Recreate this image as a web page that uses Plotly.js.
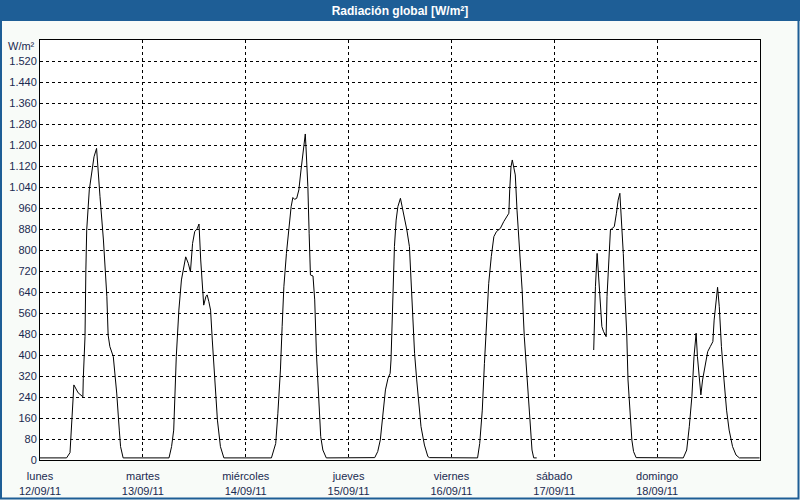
<!DOCTYPE html>
<html><head><meta charset="utf-8">
<script src="https://cdn.plot.ly/plotly-3.0.1.min.js"></script>
<style>html,body{margin:0;padding:0;background:#f8fbf8}#chart{width:800px;height:500px}</style>
</head><body><div id="chart"></div>
<script>
// Tick labels (one per day, at midnight)
const dayNames = ['lunes', 'martes', 'miércoles', 'jueves', 'viernes', 'sábado', 'domingo'];
const dayDates = ['12/09/11', '13/09/11', '14/09/11', '15/09/11', '16/09/11', '17/09/11', '18/09/11'];
const dayStartHours = [0, 24, 48, 72, 96, 120, 144];
const yTickValues = [0, 80, 160, 240, 320, 400, 480, 560, 640, 720, 800, 880, 960, 1040, 1120, 1200, 1280, 1360, 1440, 1520];

// Global radiation (W/m²); hours of the day and values, per day
const lunesHours = [0, 6.2, 7.0, 7.4, 7.9, 8.9, 10.0, 10.1, 10.5, 10.7, 10.9, 11.5, 12.1, 12.6, 13.2, 13.4, 14.0, 14.8, 15.6, 15.9, 16.3, 17.1, 17.9, 18.5, 18.8, 19.4];
const lunesValues = [8, 8, 28, 152, 286, 256, 241, 311, 470, 724, 876, 1029, 1105, 1155, 1187, 1136, 1003, 838, 622, 476, 432, 394, 255, 114, 51, 8];

const martesHours = [6.1, 6.7, 7.2, 7.8, 8.4, 9.0, 9.6, 10.0, 10.6, 11.1, 11.6, 12.1, 12.7, 13.1, 13.5, 13.9, 14.2, 14.7, 15.0, 15.4, 15.8, 16.2, 16.8, 17.4, 18.1, 18.9];
const martesValues = [8, 51, 114, 394, 571, 686, 743, 774, 749, 717, 825, 870, 882, 899, 762, 635, 590, 622, 629, 603, 571, 457, 279, 152, 51, 8];

const miercolesHours = [6.0, 7.0, 7.5, 8.1, 8.5, 8.9, 9.5, 10.1, 10.6, 11.0, 11.4, 11.9, 12.4, 12.9, 13.3, 13.7, 13.9, 14.1, 14.5, 14.8, 15.1, 15.7, 16.1, 16.5, 17.0, 17.5, 18.0, 18.8];
const miercolesValues = [8, 63, 178, 343, 508, 660, 787, 889, 965, 1000, 993, 997, 1029, 1105, 1168, 1219, 1242, 1181, 1041, 864, 705, 701, 610, 406, 229, 89, 38, 8];

const juevesHours = [6.1, 6.8, 7.4, 8.0, 8.6, 9.2, 9.7, 9.9, 10.2, 10.3, 10.7, 11.1, 11.5, 12.1, 12.5, 13.1, 13.6, 14.2, 14.6, 15.0, 15.4, 15.9, 16.4, 16.9, 17.7, 18.5, 18.9];
const juevesValues = [9, 32, 76, 178, 267, 311, 330, 381, 533, 660, 813, 914, 965, 997, 965, 927, 876, 813, 686, 533, 406, 305, 216, 127, 57, 13, 9];

const viernesHours = [6.1, 6.6, 7.2, 7.7, 8.2, 8.7, 9.3, 9.9, 10.5, 11.4, 12.2, 13.0, 13.4, 13.6, 13.9, 14.2, 14.5, 14.9, 15.3, 15.9, 16.5, 17.0, 17.7, 18.3, 18.8, 19.2, 19.9];
const viernesValues = [8, 63, 190, 368, 546, 673, 775, 851, 870, 882, 908, 933, 940, 1029, 1117, 1143, 1117, 1086, 952, 800, 648, 470, 292, 140, 38, 8, 8];

const sabadoHours = [9.2, 9.3, 9.6, 10.0, 10.4, 10.7, 11.1, 11.5, 12.1, 12.3, 12.7, 13.1, 13.5, 14.0, 14.5, 14.9, 15.3, 15.6, 16.1, 16.5, 16.9, 17.2, 17.7, 18.1, 18.5, 19.1];
const sabadoValues = [419, 483, 660, 787, 686, 584, 508, 489, 470, 622, 736, 876, 882, 889, 940, 990, 1016, 940, 787, 622, 483, 305, 152, 76, 32, 9];

const domingoHours = [6.1, 6.9, 7.5, 8.1, 8.6, 9.1, 9.4, 9.8, 10.2, 10.6, 11.2, 11.8, 12.4, 13.0, 13.3, 13.7, 14.1, 14.5, 15.0, 15.6, 16.2, 16.8, 17.6, 18.4, 19.2, 23.9];
const domingoValues = [8, 38, 127, 241, 394, 483, 394, 317, 248, 305, 368, 413, 432, 451, 533, 610, 658, 584, 432, 305, 190, 114, 51, 19, 8, 8];

const days = [
  [lunesHours, lunesValues, false],
  [martesHours, martesValues, false],
  [miercolesHours, miercolesValues, false],
  [juevesHours, juevesValues, false],
  [viernesHours, viernesValues, true],   // missing data after this day
  [sabadoHours, sabadoValues, false],
  [domingoHours, domingoValues, false]
];

const xs = [], ys = [];
days.forEach((d, i) => {
  d[0].forEach((h, j) => { xs.push(dayStartHours[i] + h); ys.push(d[1][j]); });
  if (d[2]) { xs.push(null); ys.push(null); }
});

const tickText = dayNames.map((n, i) => n + '<br>' + dayDates[i]);
const blue = '#1e5e96';
const textCol = '#1a2a50';

// plot area: x 40..760, y 40..460 (px)
const px = v => (v - 40) / 720;
const py = v => (460 - v) / 420;

const layout = {
  width: 800, height: 500,
  margin: {l: 40, r: 40, t: 40, b: 40},
  paper_bgcolor: '#f8fbf8',
  plot_bgcolor: '#ffffff',
  separators: ',.',
  showlegend: false,
  font: {family: 'Liberation Sans, Arial, sans-serif', size: 11, color: textCol},
  title: {
    text: '<b>Radiación global [W/m²]</b>',
    font: {family: 'Liberation Sans, Arial, sans-serif', size: 12, color: '#ffffff'},
    x: 0.5, xref: 'container', xanchor: 'center',
    y: 1 - 10.5 / 500, yref: 'container', yanchor: 'middle'
  },
  xaxis: {
    range: [0, 168], tickmode: 'array', tickvals: dayStartHours, ticktext: tickText,
    showgrid: true, gridcolor: '#000000', gridwidth: 1, griddash: '3px,3px',
    showline: true, linecolor: '#000000', linewidth: 1, mirror: true,
    zeroline: false, ticks: '', ticklabelstandoff: 6, fixedrange: true,
    tickfont: {size: 11, color: textCol}
  },
  yaxis: {
    range: [0, 1600], tickmode: 'array', tickvals: yTickValues,
    separatethousands: true,
    showgrid: true, gridcolor: '#000000', gridwidth: 1, griddash: '3px,3px',
    showline: true, linecolor: '#000000', linewidth: 1, mirror: true,
    zeroline: false, ticks: '', fixedrange: true,
    tickfont: {size: 11, color: textCol}
  },
  shapes: [
    {type: 'rect', xref: 'paper', yref: 'paper', x0: px(0), x1: px(800), y0: py(21), y1: py(0),
     fillcolor: blue, line: {width: 0}, layer: 'below'},
    {type: 'rect', xref: 'paper', yref: 'paper', x0: px(1), x1: px(798.5), y0: py(498.5), y1: py(1),
     fillcolor: 'rgba(0,0,0,0)', line: {width: 2, color: blue}, layer: 'above'}
  ],
  annotations: [
    {text: 'W/m²', xref: 'paper', yref: 'paper', x: 0, y: py(46), xanchor: 'right', yanchor: 'middle',
     xshift: -3, showarrow: false, font: {size: 11, color: textCol}}
  ]
};

Plotly.newPlot('chart', [{
  x: xs, y: ys, type: 'scatter', mode: 'lines',
  line: {color: '#000000', width: 1}, connectgaps: false, hoverinfo: 'skip'
}], layout, {staticPlot: true, displayModeBar: false});
</script></body></html>
